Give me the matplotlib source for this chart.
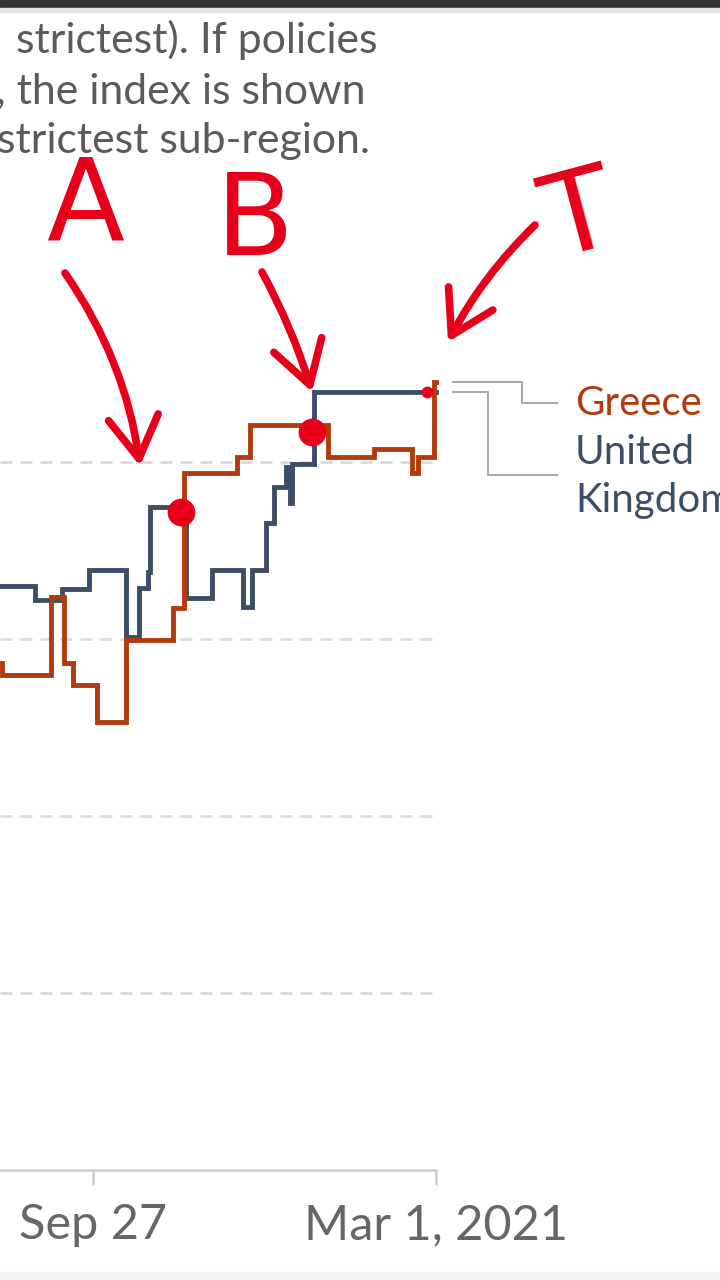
import matplotlib
matplotlib.use("Agg")
import matplotlib.pyplot as plt
import matplotlib.transforms as mtransforms
from matplotlib.patches import Rectangle, FancyArrowPatch
from matplotlib.lines import Line2D
import pandas as pd

plt.rcParams["font.family"] = ["Lato", "DejaVu Sans"]
plt.rcParams["lines.scale_dashes"] = False

# ---------------- data ----------------
uk_dates = ["2020-08-10", "2020-09-01", "2020-09-13", "2020-09-25", "2020-10-12",
            "2020-10-18", "2020-10-22", "2020-10-23", "2020-11-08", "2020-11-20",
            "2020-12-04", "2020-12-08", "2020-12-14", "2020-12-18", "2020-12-23",
            "2020-12-25", "2020-12-26", "2021-01-05", "2021-03-01"]
uk_values = [66.0, 64.4, 65.6, 67.8, 60.2,
             65.8, 67.6, 74.9, 64.6, 67.8,
             63.6, 67.8, 73.1, 77.2, 79.4,
             75.4, 79.8, 87.9, 87.9]

greece_dates = ["2020-08-10", "2020-08-17", "2020-09-08", "2020-09-14", "2020-09-18",
                "2020-09-29", "2020-10-12", "2020-11-02", "2020-11-07", "2020-12-01",
                "2020-12-07", "2021-01-11", "2021-02-01", "2021-02-18", "2021-02-21",
                "2021-02-28", "2021-03-01"]
greece_values = [57.3, 55.9, 64.7, 57.3, 54.8,
                 50.6, 59.9, 63.5, 78.8, 80.6,
                 84.2, 80.6, 81.5, 78.8, 80.6,
                 89.0, 89.0]

series_names = ["Greece", "United Kingdom"]
tick_dates = ["2020-09-27", "2021-03-01"]
tick_labels = ["Sep 27", "Mar 1, 2021"]
grid_values = [20, 40, 60, 80]

# visible part of the (cropped) subtitle
subtitle_lines = [
    "strictest). If policies",
    ", the index is shown",
    "strictest sub-region.",
]

# hand-drawn style annotations
mark_labels = ["A", "B", "T"]
mark_dates = ["2020-11-06", "2021-01-04", "2021-02-25"]
mark_values = [74.3, 83.4, 87.9]

# ---------------- styling ----------------
W, H, DPI = 720, 1280, 100
GREECE = "#B23A0C"
UK = "#3C4E66"
RED = "#E8001A"
GRID = "#d9d9d9"
AXIS = "#cccccc"
TEXT = "#5b5b5b"

fig = plt.figure(figsize=(W / DPI, H / DPI), dpi=DPI)
fig.patch.set_facecolor("white")
ident = mtransforms.IdentityTransform()

ax = fig.add_axes([0, (H - 1170) / H, 436 / W, (1170 - 373.5) / H])
ax.set_xlim(pd.Timestamp("2020-08-16"), pd.Timestamp("2021-03-01"))
ax.set_ylim(0, 90)

for v in grid_values:
    ax.axhline(v, xmin=0, xmax=432 / 436, color=GRID, lw=1.9,
               dashes=(8.6, 5.8), zorder=0)

lw = 3.5
ax.plot(pd.to_datetime(uk_dates), uk_values, drawstyle="steps-post",
        color=UK, lw=lw, solid_joinstyle="miter", clip_on=False, zorder=3)
ax.plot(pd.to_datetime(greece_dates), greece_values, drawstyle="steps-post",
        color=GREECE, lw=lw, solid_joinstyle="miter", clip_on=False, zorder=4)

for s in ["left", "right", "top"]:
    ax.spines[s].set_visible(False)
ax.spines["bottom"].set_color(AXIS)
ax.spines["bottom"].set_linewidth(1.8)
ax.set_yticks([])
ax.set_xticks(pd.to_datetime(tick_dates))
ax.set_xticklabels(tick_labels)
ax.tick_params(axis="x", length=11, width=1.8, color=AXIS, pad=13,
               labelsize=35, labelcolor="#666666")
ax.patch.set_visible(False)

# red dots
dot_sizes = [20, 20, 8.5]
for d, v, ms in zip(mark_dates, mark_values, dot_sizes):
    ax.plot([pd.Timestamp(d)], [v], "o", color=RED, ms=ms, mec="none",
            clip_on=False, zorder=6)

# subtitle (cropped on the left in the screenshot)
sub_right = [378, 365, 370]
sub_base = [53, 103, 153]
for line, xr, yb in zip(subtitle_lines, sub_right, sub_base):
    fig.text(xr, H - yb, line, ha="right", va="baseline", fontsize=30.8,
             color=TEXT, transform=ident)

# end-of-line labels with connectors
gx, gy = ax.transData.transform((ax.get_xlim()[1], greece_values[-1]))
ux, uy = ax.transData.transform((ax.get_xlim()[1], uk_values[-1]))
conn = dict(color="#aaaaaa", lw=1.5, transform=ident)
fig.add_artist(Line2D([453, 522, 522, 557], [gy, gy, H - 403, H - 403], **conn))
fig.add_artist(Line2D([453, 488, 488, 557], [uy, uy, H - 475, H - 475], **conn))
fig.text(575, H - 415, series_names[0], ha="left", va="baseline", fontsize=29,
         color=GREECE, transform=ident)
fig.text(575, H - 464, "United", ha="left", va="baseline", fontsize=29,
         color=UK, transform=ident)
fig.text(575, H - 512, "Kingdom", ha="left", va="baseline", fontsize=29,
         color=UK, transform=ident)

# hand-written letters
letter_pos = [(85, 240, 0), (255, 255, 0), (588, 250, 15)]
for lab, (x, y, rot) in zip(mark_labels, letter_pos):
    fig.text(x, H - y, lab, ha="center", va="baseline", fontsize=82,
             color=RED, family="DejaVu Sans", rotation=rot,
             rotation_mode="anchor", transform=ident)

# arrows
arrows = [((65, 273), (140, 466), -0.12),
          ((262, 272), (312, 392), -0.05),
          ((535, 225), (448, 342), 0.08)]
for (x0, y0), (x1, y1), rad in arrows:
    fig.add_artist(FancyArrowPatch(
        (x0, H - y0), (x1, H - y1), transform=ident,
        arrowstyle="->,head_length=1.5,head_width=0.9", mutation_scale=20,
        connectionstyle=f"arc3,rad={rad}", color=RED, lw=5.5,
        capstyle="round", joinstyle="round", shrinkA=0, shrinkB=0))

# browser chrome bits
fig.add_artist(Rectangle((0, H - 8), W, 8, color="#323336", transform=ident))
fig.add_artist(Rectangle((0, H - 12), W, 4, color="#e4e4e4", transform=ident))
fig.add_artist(Rectangle((0, 0), W, 8, color="#f3f3f3", transform=ident))

fig.savefig("out.png", dpi=DPI)
